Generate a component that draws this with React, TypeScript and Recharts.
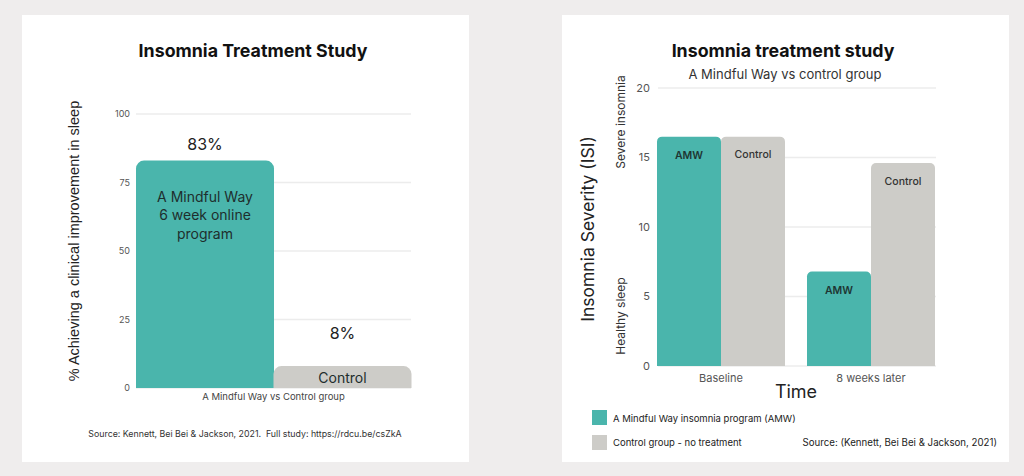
import React from "react";
import {
  BarChart,
  Bar,
  XAxis,
  YAxis,
  CartesianGrid,
  Cell,
  LabelList,
} from "recharts";

// left panel: % achieving clinical improvement
const groups = ["A Mindful Way", "Control"];
const improvedPct = [83, 8];
const groupInnerText = [["A Mindful Way", "6 week online", "program"], ["Control"]];
const pctTicks = [0, 25, 50, 75, 100];

// right panel: ISI severity over time
const timePoints = ["Baseline", "8 weeks later"];
const amwIsi = [16.5, 6.8];
const controlIsi = [16.5, 14.6];
const isiTicks = [0, 5, 10, 15, 20];

const TEAL = "#4ab5ac";
const GREY = "#cdccc8";
const FONT = "Inter, 'Noto Sans', sans-serif";

const leftData = groups.map((g, i) => ({ name: g, value: improvedPct[i] }));
const rightData = timePoints.map((t, i) => ({ name: t, amw: amwIsi[i], control: controlIsi[i] }));

const centered = (x: number, y: number, style: React.CSSProperties = {}): React.CSSProperties => ({
  position: "absolute",
  left: x,
  top: y,
  transform: "translate(-50%, -50%)",
  whiteSpace: "nowrap",
  fontFamily: FONT,
  ...style,
});

function PctLabel(props: any) {
  const { x, y, width, value, index } = props;
  const lift = index === 0 ? 11 : 27;
  return (
    <text x={x + width / 2} y={y - lift} textAnchor="middle" fontSize={16} fill="#222" fontFamily={FONT}>
      {value}%
    </text>
  );
}

function InnerLabel(props: any) {
  const { x, y, width, index } = props;
  const lines = groupInnerText[index] || [];
  const first = index === 0 ? 41 : 17;
  return (
    <text textAnchor="middle" fontSize={14} fill="#1e2e2d" fontFamily={FONT}>
      {lines.map((l: string, i: number) => (
        <tspan key={i} x={x + width / 2} y={y + first + i * 18.5}>
          {l}
        </tspan>
      ))}
    </text>
  );
}

function LeftYLabel(props: any) {
  const { viewBox } = props;
  const cx = viewBox.x + 52;
  const cy = viewBox.y + viewBox.height / 2 - 10;
  return (
    <text
      x={cx}
      y={cy}
      transform={`rotate(-90, ${cx}, ${cy})`}
      textAnchor="middle"
      dominantBaseline="central"
      fontSize={14.5}
      fill="#222"
      fontFamily="'Liberation Sans', Arial, sans-serif"
    >
      % Achieving a clinical improvement in sleep
    </text>
  );
}

function RightYLabel(props: any) {
  const { viewBox } = props;
  const mid = viewBox.y + viewBox.height / 2;
  const main = { x: viewBox.x + 25, y: mid + 2 };
  const upper = { x: viewBox.x + 58, y: viewBox.y + 34 };
  const lower = { x: viewBox.x + 58, y: viewBox.y + 228 };
  const rot = (p: { x: number; y: number }) => `rotate(-90, ${p.x}, ${p.y})`;
  return (
    <g fontFamily={FONT}>
      <text x={main.x} y={main.y} transform={rot(main)} textAnchor="middle" dominantBaseline="central" fontSize={17.5} fill="#222">
        Insomnia Severity (ISI)
      </text>
      <text x={upper.x} y={upper.y} transform={rot(upper)} textAnchor="middle" dominantBaseline="central" fontSize={12} fill="#333">
        Severe insomnia
      </text>
      <text x={lower.x} y={lower.y} transform={rot(lower)} textAnchor="middle" dominantBaseline="central" fontSize={12} fill="#333">
        Healthy sleep
      </text>
    </g>
  );
}

const cardStyle = (left: number): React.CSSProperties => ({
  position: "absolute",
  left,
  top: 15,
  width: 447,
  height: 447,
  background: "#fff",
});

export default function App() {
  return (
    <div style={{ position: "absolute", left: 0, top: 0, width: 1024, height: 476, background: "#efeded", overflow: "hidden" }}>
      {/* left card */}
      <div style={cardStyle(22)}>
        <div style={centered(231, 35, { fontSize: 17.8, fontWeight: 700, color: "#111" })}>Insomnia Treatment Study</div>
        <BarChart
          width={447}
          height={447}
          data={leftData}
          margin={{ top: 99, right: 58, bottom: 44, left: 0 }}
          barCategoryGap={0}
          style={{ position: "absolute", left: 0, top: 0 }}
        >
          <CartesianGrid vertical={false} stroke="#ececec" strokeWidth={1.5} />
          <XAxis
            dataKey="name"
            height={30}
            tick={false}
            tickLine={false}
            axisLine={false}
            label={{ value: "A Mindful Way vs Control group", position: "insideTop", offset: 5, fontSize: 9.5, fill: "#444", fontFamily: FONT }}
          />
          <YAxis
            width={114}
            domain={[0, 100]}
            ticks={pctTicks}
            tickSize={0}
            tickMargin={6}
            axisLine={false}
            tick={{ fontSize: 9, fill: "#555", fontFamily: FONT }}
            label={<LeftYLabel />}
          />
          <Bar dataKey="value" radius={[8, 8, 0, 0]} isAnimationActive={false}>
            {leftData.map((d, i) => (
              <Cell key={d.name} fill={i === 0 ? TEAL : GREY} />
            ))}
            <LabelList dataKey="value" content={<PctLabel />} />
            <LabelList dataKey="value" content={<InnerLabel />} />
          </Bar>
        </BarChart>
        <div style={centered(223, 418, { fontSize: 8.8, color: "#333" })}>
          Source: Kennett, Bei Bei &amp; Jackson, 2021.&nbsp; Full study: https://rdcu.be/csZkA
        </div>
      </div>

      {/* right card */}
      <div style={cardStyle(562)}>
        <div style={centered(221, 35, { fontSize: 17.8, fontWeight: 700, color: "#111" })}>Insomnia treatment study</div>
        <div style={centered(223, 59, { fontSize: 13, color: "#333" })}>A Mindful Way vs control group</div>
        <BarChart
          width={447}
          height={447}
          data={rightData}
          margin={{ top: 73, right: 63, bottom: 56, left: 0 }}
          barCategoryGap={11}
          barGap={0}
          style={{ position: "absolute", left: 0, top: 0 }}
        >
          <CartesianGrid vertical={false} stroke="#ececec" strokeWidth={1.5} x={96} width={278} />
          <XAxis
            dataKey="name"
            height={40}
            tickSize={0}
            tickMargin={8}
            axisLine={false}
            tick={{ fontSize: 11, fill: "#555", fontFamily: FONT }}
            label={{ value: "Time", position: "insideTop", offset: 19, fontSize: 18, fill: "#222", fontFamily: FONT }}
          />
          <YAxis
            width={84}
            domain={[0, 20]}
            ticks={isiTicks}
            tickSize={0}
            tickMargin={-4}
            axisLine={false}
            tick={{ fontSize: 11, fill: "#555", fontFamily: FONT }}
            label={<RightYLabel />}
          />
          <Bar dataKey="amw" fill={TEAL} radius={[5, 5, 0, 0]} isAnimationActive={false}>
            <LabelList dataKey="amw" position="insideTop" offset={15} formatter={() => "AMW"} fontSize={10.5} fontWeight={600} fill="#1e3533" fontFamily={FONT} />
          </Bar>
          <Bar dataKey="control" fill={GREY} radius={[5, 5, 0, 0]} isAnimationActive={false}>
            <LabelList dataKey="control" position="insideTop" offset={14} formatter={() => "Control"} fontSize={10.5} fontWeight={500} fill="#333" fontFamily={FONT} />
          </Bar>
        </BarChart>
        <div style={{ position: "absolute", left: 30, top: 395, width: 15, height: 15, background: TEAL }} />
        <div style={{ position: "absolute", left: 30, top: 420, width: 15, height: 15, background: GREY }} />
        <div style={{ ...centered(51, 403, { fontSize: 9.5, color: "#222" }), transform: "translate(0, -50%)" }}>
          A Mindful Way insomnia program (AMW)
        </div>
        <div style={{ ...centered(51, 427, { fontSize: 9.5, color: "#222" }), transform: "translate(0, -50%)" }}>
          Control group - no treatment
        </div>
        <div style={{ ...centered(435, 427, { fontSize: 9.7, color: "#222" }), transform: "translate(-100%, -50%)" }}>
          Source: (Kennett, Bei Bei &amp; Jackson, 2021)
        </div>
      </div>
    </div>
  );
}
